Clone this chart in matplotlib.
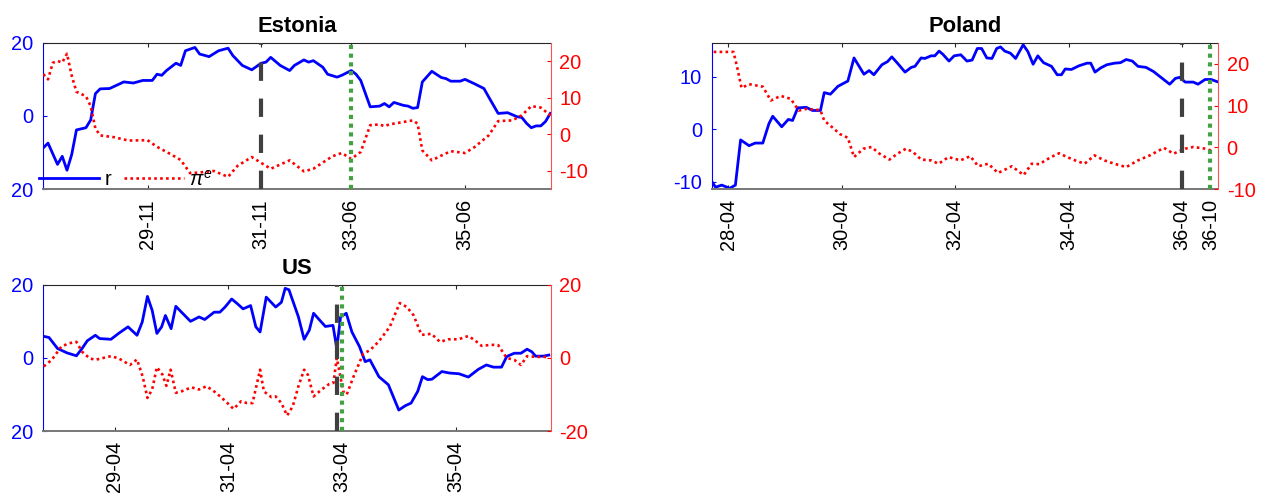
import matplotlib.pyplot as plt

plt.rcParams['font.family'] = ['Liberation Sans', 'DejaVu Sans']
plt.rcParams['mathtext.fontset'] = 'custom'
plt.rcParams['mathtext.rm'] = 'Liberation Sans'
plt.rcParams['mathtext.it'] = 'Liberation Sans:italic'
plt.rcParams['axes.unicode_minus'] = False

# x values: months counted from Jan 1928 (0 = 1928-01)
est_r_m = [0, 1, 3, 4, 5, 6, 7, 9, 10, 11, 12, 14, 15, 17, 19, 21, 23, 24, 25, 26,
           28, 29, 30, 32, 33, 35, 37, 39, 40, 42, 44, 46, 47, 48, 50, 52, 53, 55, 56, 57,
           59, 60, 62, 63, 65, 66, 67, 69, 71, 72, 73, 74, 76, 77, 78, 79, 80, 82, 84, 85,
           86, 88, 89, 91, 93, 94, 96, 98, 100, 101, 102, 103, 104, 105, 106, 107]
est_r = [-8.7, -7.4, -13.2, -11.0, -14.8, -10.5, -3.8, -3.2, -1.1, 6.1, 7.4, 7.5, 8.1, 9.3, 9.0, 9.7, 9.7, 11.4, 11.1, 12.4,
         14.4, 13.8, 17.8, 18.7, 16.9, 16.2, 17.8, 18.5, 16.5, 13.8, 12.6, 14.4, 14.7, 16.0, 13.8, 12.4, 13.8, 15.3, 14.7, 15.1,
         13.3, 11.4, 10.6, 11.1, 12.4, 11.4, 9.7, 2.5, 2.7, 3.4, 2.5, 3.7, 2.9, 2.7, 2.1, 2.3, 9.3, 12.2, 10.5, 10.2,
         9.5, 9.5, 10.0, 8.8, 7.5, 5.2, 0.7, 0.9, -0.2, -0.4, -2.0, -3.2, -2.7, -2.7, -1.5, 0.7]
est_pe_m = [0, 1, 2, 3, 4, 5, 6, 7, 9, 10, 11, 12, 15, 18, 22, 24, 27, 29, 31, 33, 36,
            39, 41, 44, 46, 48, 52, 55, 57, 61, 63, 65, 67, 69, 71, 72, 73, 78, 79, 80, 82,
            84, 86, 89, 91, 94, 96, 99, 101, 103, 105, 107]
est_pe = [16.4, 15.0, 19.5, 20.0, 19.6, 22.0, 16.0, 11.6, 10.4, 7.7, 1.6, -0.3, -0.8, -1.7, -1.6, -3.4, -5.5, -7.0, -10.6, -10.4, -10.0,
          -11.6, -8.6, -6.2, -7.8, -9.4, -7.1, -10.1, -9.4, -6.0, -5.1, -6.7, -4.8, 2.5, 2.7, 2.2, 2.7, 3.8, 2.9, -4.4, -7.1,
          -5.8, -4.6, -5.1, -3.5, -0.3, 3.6, 3.8, 5.2, 7.7, 7.3, 5.2]

pol_r_m = [-0.5, 0.3, 1.6, 3.3, 4.5, 5.6, 7.4, 8.7, 10.3, 11.6, 12.4, 14.3, 15.7, 16.6, 17.7, 19.5, 20.8, 22.5,
           23.3, 24.6, 26.2, 28.3, 29.6, 31.7, 32.8, 33.8, 35.5, 36.7, 37.6, 38.8, 40.4, 41.7, 42.5, 43.8,
           44.6, 45.9, 46.7, 47.6, 48.4, 49.7, 50.8, 52.2, 53.5, 54.6, 55.7, 56.6, 57.7, 58.8, 59.8, 60.6,
           61.5, 62.7, 63.8, 65.4, 66.4, 67.5, 68.5, 69.7, 71.4, 72.6, 73.5, 74.3, 75.6, 77.2, 78.9, 79.7,
           80.6, 81.8, 83.1, 84.7, 86.0, 87.2, 88.5, 89.7, 91.4, 93.0, 94.7, 96.4, 97.6, 98.5, 99.7, 101.4,
           102.4, 103.9, 105.2, 106.4]
pol_r = [-9.9, -11.0, -10.6, -11.2, -10.6, -2.0, -3.1, -2.6, -2.6, 1.1, 2.5, 0.5, 1.9, 1.7, 4.1, 4.2, 3.6, 3.6,
         7.0, 6.7, 8.2, 9.2, 13.6, 10.5, 11.2, 10.4, 12.3, 12.9, 13.8, 12.6, 10.9, 11.8, 12.0, 13.6,
         13.5, 14.0, 14.0, 14.9, 14.3, 13.0, 14.0, 14.2, 13.0, 13.2, 15.4, 15.4, 13.6, 13.5, 15.4, 15.7,
         14.9, 14.5, 13.5, 16.1, 14.8, 12.4, 14.0, 12.7, 12.0, 10.4, 10.4, 11.5, 11.4, 12.1, 12.6, 12.6,
         10.9, 11.7, 12.3, 12.6, 12.7, 13.3, 13.0, 12.0, 11.8, 11.0, 9.8, 8.6, 9.7, 9.9, 9.0, 9.0,
         8.6, 9.5, 9.5, 9.1]
pol_pe_m = [-0.1, 4.1, 4.9, 5.8, 7.4, 10.3, 12.0, 14.1, 16.2, 17.9, 19.5, 22.5, 23.3, 25.0, 26.6, 28.3, 29.6,
            31.6, 33.3, 35.0, 37.1, 38.8, 40.6, 42.1, 43.8, 45.9, 47.5, 49.6, 52.1, 54.2, 55.9, 58.0, 60.1,
            63.0, 65.5, 67.2, 68.8, 71.3, 73.0, 74.7, 76.4, 78.4, 80.5, 82.6, 84.7, 87.2, 89.7, 92.2, 95.2,
            97.2, 99.7, 101.4, 103.9, 105.6]
pol_pe = [22.8, 22.8, 19.0, 14.2, 15.1, 14.5, 11.2, 12.3, 11.6, 8.8, 9.2, 8.9, 6.4, 4.8, 3.2, 2.3, -2.3,
          -0.3, 0.1, -1.5, -2.9, -1.5, -0.3, -1.1, -2.9, -3.1, -3.9, -2.3, -3.1, -2.1, -4.5, -3.9, -6.1,
          -4.5, -6.6, -3.9, -4.0, -2.3, -1.4, -2.3, -3.1, -3.9, -1.9, -3.1, -3.9, -4.7, -3.1, -1.9, -0.1,
          -1.5, -0.3, 0.1, -0.3, -0.9]

us_r_m = [0, 1.1, 2.9, 4.9, 6.9, 8.1, 9.2, 10.9, 11.8, 14.2, 15.8, 17.8, 19.7, 20.8, 21.9, 22.9, 23.9,
          24.9, 25.7, 26.9, 27.9, 29.1, 31.0, 32.8, 34.0, 36.0, 37.2, 38.3, 39.7, 40.9, 42.1, 43.7, 44.8,
          45.7, 47.0, 49.0, 50.2, 51.0, 51.8, 53.8, 55.0, 56.1, 57.0, 58.3, 59.5, 61.1, 61.9, 62.7, 63.9,
          65.1, 66.7, 67.9, 68.9, 70.8, 72.8, 75.0, 76.4, 77.6, 79.0, 80.0, 81.1, 82.0, 84.1, 85.7, 87.7,
          89.7, 91.8, 93.5, 95.0, 96.7, 97.8, 99.4, 100.8, 102.1, 103.1, 103.9, 105.5, 106.7]
us_r = [5.9, 5.6, 2.6, 1.4, 0.6, 2.6, 4.7, 6.2, 5.3, 5.1, 6.7, 8.5, 6.2, 9.8, 16.8, 13.0, 6.7,
        8.5, 11.6, 8.0, 14.1, 12.5, 10.0, 11.2, 10.5, 12.5, 12.5, 13.9, 16.1, 14.8, 13.4, 14.3, 8.5,
        7.1, 16.6, 13.9, 15.2, 19.0, 18.6, 11.2, 5.1, 7.6, 12.2, 10.3, 8.6, 8.9, 2.6, 11.2, 12.2,
        7.1, 3.1, -1.0, -0.5, -5.1, -7.3, -14.2, -13.0, -12.3, -9.1, -5.1, -5.9, -5.8, -3.7, -4.1, -4.3,
        -5.2, -3.1, -1.9, -2.5, -2.5, 0.4, 1.3, 1.3, 2.4, 1.7, 0.5, 0.5, 0.8]
us_pe_m = [0, 1.7, 3.7, 5.3, 6.9, 8.1, 9.7, 10.9, 12.2, 14.2, 15.8, 18.2, 19.7, 20.9, 21.9, 22.9, 23.9,
           25.1, 25.9, 26.8, 27.9, 29.1, 31.2, 32.8, 34.4, 36.4, 38.4, 40.1, 41.7, 42.9, 44.1, 45.7, 46.5,
           48.1, 49.0, 50.2, 51.4, 52.6, 53.8, 55.0, 55.8, 57.0, 58.7, 60.3, 61.2, 61.9, 63.3, 64.0, 65.4,
           67.5, 68.9, 70.7, 73.1, 75.2, 76.7, 78.1, 79.8, 81.9, 83.7, 85.5, 87.6, 89.7, 91.1, 92.5, 94.5,
           96.0, 97.8, 99.4, 100.8, 102.1, 104.0, 106.7]
us_pe = [-2.3, -0.5, 3.1, 4.0, 4.4, 1.7, -0.1, -0.5, -0.1, 0.5, -0.1, -1.9, -0.4, -5.1, -10.9, -8.6, -2.5,
         -4.6, -7.6, -3.2, -9.5, -9.1, -8.0, -8.6, -7.7, -9.5, -11.8, -13.9, -11.8, -12.3, -12.3, -3.2, -9.1,
         -10.7, -10.5, -12.3, -15.7, -13.2, -7.7, -3.2, -4.6, -10.5, -8.6, -7.1, -6.8, 0.0, -9.3, -10.0, -5.2,
         1.2, 2.1, 4.4, 8.5, 15.0, 13.9, 11.7, 6.3, 6.6, 4.4, 5.1, 5.1, 6.0, 4.8, 3.3, 3.6,
         3.5, 0.0, -0.5, -1.9, 0.5, 0.3, 0.3]

est_ticks = [22, 46, 65, 89]
pol_ticks = [3, 27, 51, 75, 99, 105]
us_ticks = [15, 39, 63, 87]

BLUE = '#0000ff'
RED = '#ff0000'
FS = 14.4


def month_label(m):
    return f"{28 + m // 12:02d}-{m % 12 + 1:02d}"


fig = plt.figure(figsize=(12.62, 4.97), dpi=100)


def panel(rect, title, r_m, r, pe_m, pe, xlim, yl, ylt, yll, yr, yrt, xt, black, green):
    ax = fig.add_axes(rect)
    ax2 = ax.twinx()
    l1, = ax.plot(r_m, r, color=BLUE, lw=2)
    l2, = ax2.plot(pe_m, pe, color=RED, lw=1.9, linestyle=(0, (1, 1.25)))
    ax2.axvline(black, color='#404040', lw=3, linestyle=(0, (4.4, 4.25)))
    ax2.axvline(green, color='#44a044', lw=3, linestyle=(0, (1, 1.1)))
    ax.set_xlim(*xlim)
    ax.set_ylim(*yl)
    ax2.set_ylim(*yr)
    ax.set_yticks(ylt, yll)
    ax2.set_yticks(yrt)
    ax.set_xticks(xt, [month_label(m) for m in xt])
    ax.tick_params(axis='x', direction='in', top=True, length=3, labelsize=FS,
                   labelrotation=90, pad=7, color='#262626')
    ax.tick_params(axis='y', direction='in', length=3, labelsize=FS, pad=7,
                   colors=BLUE)
    ax2.tick_params(axis='y', direction='in', length=3, labelsize=FS, pad=6,
                    colors=RED)
    ax.spines['left'].set_color(BLUE)
    ax.spines['right'].set_visible(False)
    ax.spines['top'].set_color('#262626')
    ax.spines['top'].set_linewidth(0.8)
    ax.spines['bottom'].set_color('#777777')
    ax.spines['bottom'].set_linewidth(1.4)
    for s in ['left', 'top', 'bottom']:
        ax2.spines[s].set_visible(False)
    ax2.spines['right'].set_color('#ff5050')
    ax.set_title(title, fontsize=15.8, fontweight='bold', pad=8)
    return ax, ax2, l1, l2


ax, ax2, l1, l2 = panel([0.0343, 0.6191, 0.4021, 0.2950], 'Estonia',
                        est_r_m, est_r, est_pe_m, est_pe, (0, 107.1),
                        (-20, 20), [-20, 0, 20], ['20', '0', '20'],
                        (-15, 25), [-10, 0, 10, 20], est_ticks, 46, 65)
ax2.legend([l1, l2], ['r', r'$\pi^{e}$'], ncol=2, frameon=False, loc='lower left',
           bbox_to_anchor=(-0.008, 0.0), borderaxespad=0, borderpad=0,
           handlelength=3.0, handletextpad=0.25, columnspacing=0.65, fontsize=FS)

panel([0.5640, 0.6191, 0.4014, 0.2950], 'Poland',
      pol_r_m, pol_r, pol_pe_m, pol_pe, (-0.5, 106.7),
      (-11.4, 16.5), [-10, 0, 10], ['-10', '0', '10'],
      (-10, 25), [-10, 0, 10, 20], pol_ticks, 99, 105)

panel([0.0343, 0.1322, 0.4021, 0.2950], 'US',
      us_r_m, us_r, us_pe_m, us_pe, (-0.1, 107.1),
      (-20, 20), [-20, 0, 20], ['20', '0', '20'],
      (-20, 20), [-20, 0, 20], us_ticks, 62, 63)

fig.savefig('out.png', dpi=100)
